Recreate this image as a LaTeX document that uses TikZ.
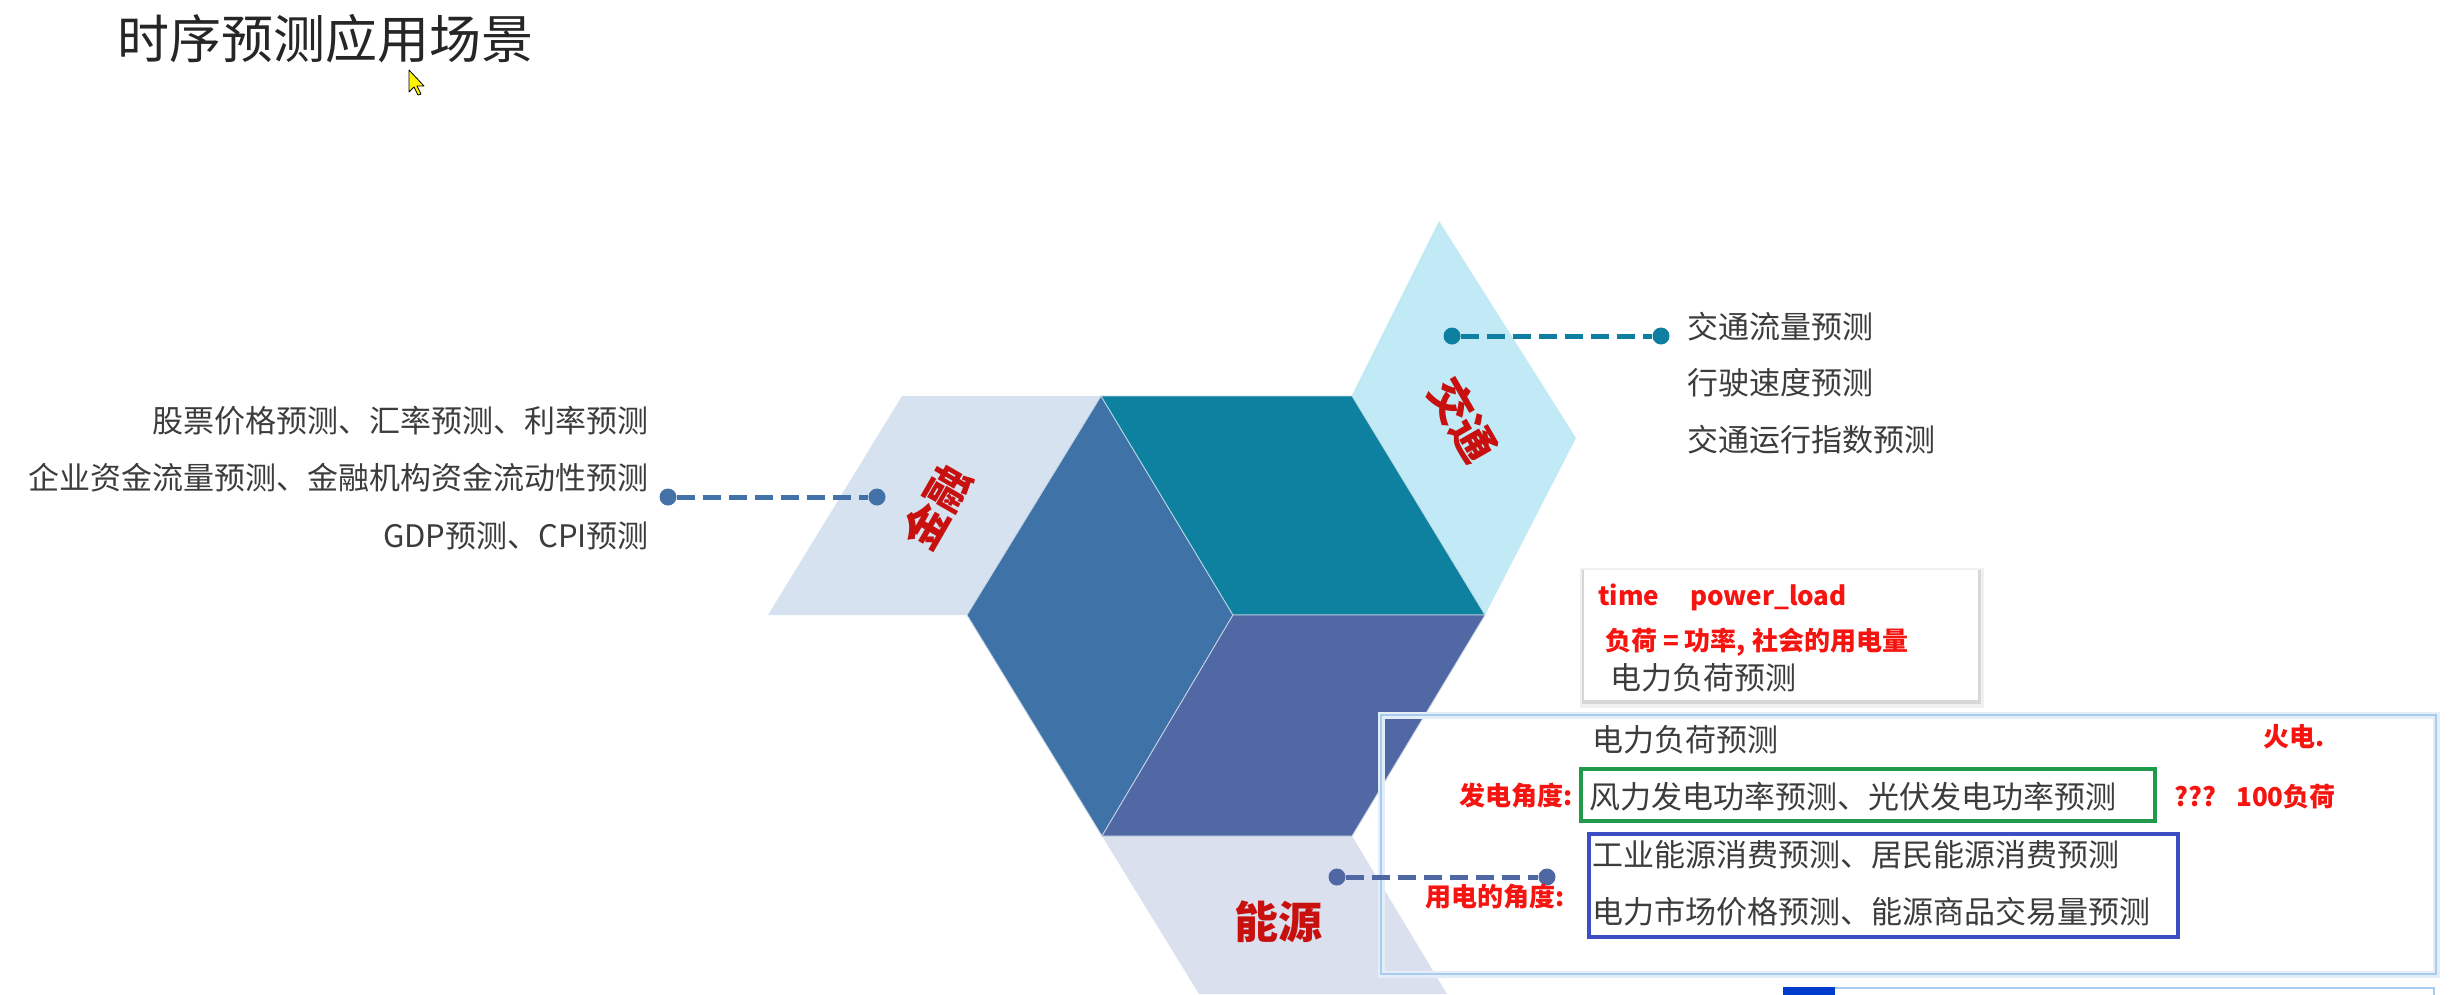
\documentclass[tikz,border=0pt]{standalone}
\usepackage{fontspec}
\setmainfont{Noto Sans CJK SC}
\definecolor{fleft}{HTML}{3F73A8}
\definecolor{ftop}{HTML}{0E80A0}
\definecolor{fbot}{HTML}{5069A4}
\definecolor{pjr}{HTML}{D6E2F0}
\definecolor{pjt}{HTML}{C1EAF6}
\definecolor{pny}{HTML}{DAE0EE}
\definecolor{lbl}{HTML}{C8100F}
\definecolor{ann}{HTML}{F5140F}
\definecolor{txtg}{HTML}{3C3C3C}
\definecolor{gbox}{HTML}{1E9A4A}
\definecolor{bbox}{HTML}{3D4DC4}
\definecolor{glow}{HTML}{A9CBEE}
\definecolor{glowout}{HTML}{E4EEF9}
\definecolor{lnjr}{HTML}{4472A8}
\definecolor{lnjt}{HTML}{0E7FA0}
\definecolor{lnny}{HTML}{4F68A3}
\tikzset{
  gtxt/.style={font=\fontsize{31}{31}\selectfont, text=txtg, inner sep=0pt, text height=27.3pt, text depth=3.7pt},
  atxt/.style={font=\fontsize{26}{26}\selectfont\bfseries, text=ann, inner sep=0pt, text height=22.9pt, text depth=3.1pt},
  bigl/.style={font=\fontsize{44}{44}\selectfont\bfseries, text=lbl, inner sep=0pt, text height=38.7pt, text depth=5.3pt},
  dotn/.style={circle, fill=#1, minimum size=17pt, inner sep=0pt},
  dashln/.style={draw=#1, line width=5pt, dash pattern=on 18pt off 8pt},
  face/.style={fill=#1, draw=white!70!#1, line width=0.8pt},
}
\begin{document}
\begin{tikzpicture}[x=1pt,y=-1pt]
\useasboundingbox (0,0) rectangle (2449,994);
\fill[white] (0,0) rectangle (2449,994);

% title
\node[font=\fontsize{52}{52}\selectfont, text=black!85, inner sep=0pt, text height=45.8pt, text depth=6.2pt, anchor=west] (title) at (117,39) {时序预测应用场景};
% cursor
\draw[fill=yellow, draw=black, line width=0.8pt, line join=round] (409,70) -- (409,92) -- (414,87) -- (418,95) -- (421,94) -- (417,86) -- (424,86) -- cycle;

% side parallelograms
\fill[pjr] (902,396) -- (1101,396) -- (967,615) -- (768,615) -- cycle;
\fill[pjt] (1352,395) -- (1439,221) -- (1576,438) -- (1485,615) -- cycle;
\fill[pny] (1102,836) -- (1352,836) -- (1447,994) -- (1199,994) -- cycle;

% cube faces
\path[face=fleft] (1101,396) -- (1233,615) -- (1102,836) -- (967,615) -- cycle;
\path[face=ftop] (1101,396) -- (1352,396) -- (1485,615) -- (1233,615) -- cycle;
\path[face=fbot] (1233,615) -- (1485,615) -- (1352,836) -- (1102,836) -- cycle;

% big labels
\node[bigl, rotate=60] (jr) at (937,507) {金融};
\node[bigl, rotate=-60] (jt) at (1463,420) {交通};
\node[bigl] (ny) at (1278,922) {能源};

% big box
\draw[glowout, line width=7pt] (1381,715) rectangle (2436,974);
\draw[glow, line width=2.5pt] (1381,715) rectangle (2436,974);

% bottom bar
\draw[glow, line width=2pt] (1784,988) rectangle (2434,1000);
\fill[blue!70!cyan!80!black] (1783,987) rectangle (1835,1000);

% time box
\fill[black, opacity=0.06] (1580,568) rectangle (1984,708);
\fill[black, opacity=0.10] (1582,570) rectangle (1981,704);
\fill[white] (1584,570) rectangle (1978,700);

% connectors
\node[dotn=lnjr] (jra) at (668,497) {};
\node[dotn=lnjr] (jrb) at (877,497) {};
\draw[dashln=lnjr] (jra) -- (jrb);
\node[dotn=lnjt] (jta) at (1452,336) {};
\node[dotn=lnjt] (jtb) at (1661,336) {};
\draw[dashln=lnjt] (jta) -- (jtb);
\node[dotn=lnny] (nya) at (1337,877) {};
\node[dotn=lnny] (nyb) at (1547,877) {};
\draw[dashln=lnny] (nya) -- (nyb);

% left texts
\node[gtxt, anchor=east] (l1) at (649,421) {股票价格预测、汇率预测、利率预测};
\node[gtxt, anchor=east] (l2) at (649,478) {企业资金流量预测、金融机构资金流动性预测};
\node[gtxt, anchor=east] (l3) at (649,536) {GDP预测、CPI预测};

% right texts
\node[gtxt, anchor=west] (r1) at (1687,327) {交通流量预测};
\node[gtxt, anchor=west] (r2) at (1687,383) {行驶速度预测};
\node[gtxt, anchor=west] (r3) at (1687,440) {交通运行指数预测};

% time box texts
\node[atxt, anchor=west] (t1) at (1598,596) {time};
\node[atxt, anchor=west] (t2) at (1690,596) {power\_load};
\node[atxt, anchor=west] (t3) at (1605,641) {负荷 = 功率, 社会的用电量};
\node[gtxt, anchor=west] (t4) at (1610,678) {电力负荷预测};

% big box texts
\node[gtxt, anchor=west] (b1) at (1592,740) {电力负荷预测};
\node[atxt, anchor=west] (b2) at (2263,737) {火电.};
\draw[gbox, line width=4.5pt] (1581,769) rectangle (2155,821);
\node[gtxt, anchor=west] (b3) at (1589,797) {风力发电功率预测、光伏发电功率预测};
\node[atxt, anchor=east] (b4) at (1573,796) {发电角度:};
\node[atxt, anchor=west] (b5) at (2174,797) {???};
\node[atxt, anchor=west] (b6) at (2236,797) {100负荷};
\draw[bbox, line width=4.5pt] (1589,834) rectangle (2178,937);
\node[gtxt, anchor=west] (b7) at (1592,855) {工业能源消费预测、居民能源消费预测};
\node[gtxt, anchor=west] (b8) at (1592,912) {电力市场价格预测、能源商品交易量预测};
\node[atxt, anchor=east] (b9) at (1565,897) {用电的角度:};
\end{tikzpicture}
\end{document}
